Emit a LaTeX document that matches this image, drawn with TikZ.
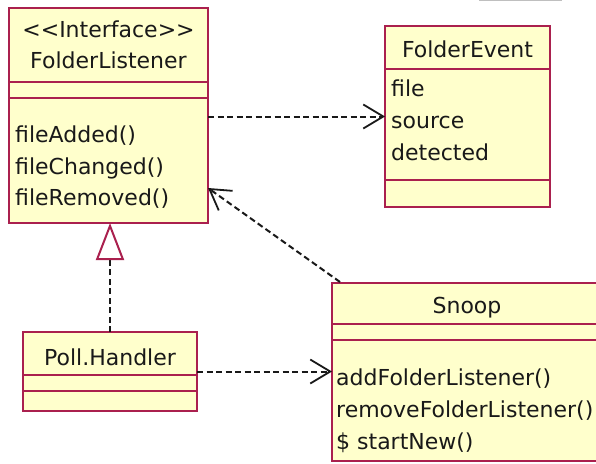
\documentclass[tikz,border=0pt]{standalone}
\usepackage{fontspec}
\setmainfont{DejaVu Sans}[Ligatures=TeXOff]
\usetikzlibrary{arrows.meta}
\definecolor{umlborder}{RGB}{170,32,78}
\definecolor{umlfill}{RGB}{255,255,204}
\definecolor{inkdark}{RGB}{25,25,25}
\tikzset{
  classbox/.style={draw=umlborder, fill=umlfill, line width=2pt, rectangle,
    inner sep=0pt, outer sep=0pt, anchor=north west},
  sepline/.style={draw=umlborder, line width=2pt},
  label/.style={inner sep=0pt, anchor=base west, text=inkdark,
    font=\fontsize{22}{26}\selectfont},
  titlelabel/.style={label, anchor=base},
  depend/.style={draw=inkdark, line width=2pt, dash pattern=on 6pt off 3.5pt,
    -{Straight Barb[length=20pt, width=24pt, line width=1.8pt]}},
  realize/.style={draw=inkdark, line width=2pt, dash pattern=on 6pt off 3.5pt,
    -{Triangle[length=37pt, width=28pt, line width=2pt, color=umlborder, fill=white]}},
}
\begin{document}
\begin{tikzpicture}[x=1pt, y=-1pt]
\useasboundingbox (0,0) rectangle (596,463);
\clip (0,0) rectangle (596,463);

% edge of a neighbouring element at the top
\draw[black!25, line width=1.5pt] (479,0.5) -- (562,0.5);

% FolderListener interface
\node[classbox, minimum width=199pt, minimum height=215pt] (fl) at (9,8) {};
\draw[sepline] (fl.west |- 0,82) -- (fl.east |- 0,82);
\draw[sepline] (fl.west |- 0,98) -- (fl.east |- 0,98);
\node[titlelabel] (flst) at (108.5,37) {<<Interface>>};
\node[titlelabel] (flname) at (108.5,68) {FolderListener};
\node[label] (flm1) at (15,142) {fileAdded()};
\node[label] (flm2) at (15,174) {fileChanged()};
\node[label] (flm3) at (15,205) {fileRemoved()};

% FolderEvent class
\node[classbox, minimum width=165pt, minimum height=181pt] (fe) at (385,26) {};
\draw[sepline] (fe.west |- 0,69) -- (fe.east |- 0,69);
\draw[sepline] (fe.west |- 0,180) -- (fe.east |- 0,180);
\node[titlelabel] (fename) at (467.5,57) {FolderEvent};
\node[label] (fea1) at (391,96) {file};
\node[label] (fea2) at (391,128) {source};
\node[label] (fea3) at (391,160) {detected};

% Poll.Handler class
\node[classbox, minimum width=174pt, minimum height=79pt] (ph) at (23,332) {};
\draw[sepline] (ph.west |- 0,375) -- (ph.east |- 0,375);
\draw[sepline] (ph.west |- 0,391) -- (ph.east |- 0,391);
\node[titlelabel] (phname) at (110,365) {Poll.Handler};

% Snoop class
\node[classbox, minimum width=270pt, minimum height=178pt] (sn) at (332,283) {};
\draw[sepline] (sn.west |- 0,324) -- (sn.east |- 0,324);
\draw[sepline] (sn.west |- 0,340) -- (sn.east |- 0,340);
\node[titlelabel] (snname) at (467,313) {Snoop};
\node[label] (snm1) at (336,385) {addFolderListener()};
\node[label] (snm2) at (336,417) {removeFolderListener()};
\node[label] (snm3) at (336,449) {\$ startNew()};

% relationships
\draw[depend] (fl.east |- fe.west) -- (fe.west);
\draw[depend] (ph.east) -- (sn.west |- ph.east);
\coordinate (sntail) at (340,282);
\coordinate (flhead) at (208,188);
\draw[depend] (sntail) -- (flhead);
\draw[realize] (ph.north) -- (ph.north |- fl.south);
\end{tikzpicture}
\end{document}
